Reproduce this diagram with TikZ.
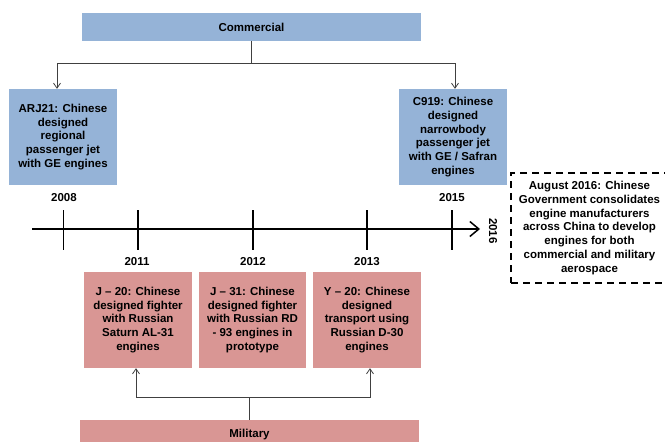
\documentclass[tikz,border=0pt]{standalone}
\usepackage{fontspec}
\setmainfont{Liberation Sans}
\usetikzlibrary{arrows.meta}
\definecolor{cblue}{HTML}{95B3D7}
\definecolor{cpink}{HTML}{D99694}
\definecolor{cline}{HTML}{404040}
\begin{document}
\begin{tikzpicture}[x=1pt,y=-1pt,
  txt/.style={font=\fontsize{11.5}{13.8}\selectfont\bfseries, align=center, inner sep=0pt, text=black},
  combox/.style={txt, fill=cblue, minimum width=108pt, minimum height=96pt},
  milbox/.style={txt, fill=cpink, minimum width=108pt, minimum height=96pt},
  conn/.style={draw=cline, line width=0.8pt},
  connarrow/.style={conn, -{Straight Barb[length=5pt,width=7pt,line width=0.8pt]}},
  tline/.style={draw=black, line width=1.8pt},
  yearlbl/.style={txt}
]
\useasboundingbox (0,0) rectangle (665,442);

% top and bottom category boxes
\node[txt, fill=cblue, minimum width=339pt, minimum height=28pt] (comm) at (251.5,27) {Commercial};
\node[txt, fill=cpink, minimum width=339pt, minimum height=30pt] (mil) at (249.5,435) {Military};

% commercial boxes
\node[combox] (arj) at (63,137) {ARJ21: Chinese\\designed\\regional\\passenger jet\\with GE engines};
\node[combox] (c919) at (453,137) {C919: Chinese\\designed\\narrowbody\\passenger jet\\with GE / Safran\\engines};

% military boxes
\node[milbox] (j20) at (138,320) {J -- 20: Chinese\\designed fighter\\with Russian\\Saturn AL-31\\engines};
\node[milbox, minimum width=107pt] (j31) at (252.5,320) {J -- 31: Chinese\\designed fighter\\with Russian RD\\- 93 engines in\\prototype};
\node[milbox] (y20) at (367,320) {Y -- 20: Chinese\\designed\\transport using\\Russian D-30\\engines};

% dashed note
\node[txt, draw=black, dashed, dash pattern=on 7pt off 5pt, line width=1.5pt,
      minimum width=157pt, minimum height=110pt] (note) at (589.5,228)
  {August 2016: Chinese\\Government consolidates\\engine manufacturers\\across China to develop\\engines for both\\commercial and military\\aerospace};

% commercial connectors
\coordinate (cl) at (57,63);
\coordinate (cr) at (455,63);
\draw[connarrow] (comm.south) |- (cl) -- (cl |- arj.north);
\draw[connarrow] (comm.south) |- (cr) -- (cr |- c919.north);

% military connectors
\coordinate (ml) at (136,397);
\coordinate (mr) at (370,397);
\draw[connarrow] (mil.north) |- (ml) -- (ml |- j20.south);
\draw[connarrow] (mil.north) |- (mr) -- (mr |- y20.south);

% timeline
\coordinate (tl0) at (32,229);
\coordinate (tl1) at (480,229);
\draw[tline, -{Straight Barb[length=9pt,width=15pt,line width=1.5pt]}] (tl0) -- (tl1);
\foreach \x/\n in {63.5/a,138/b,253/c,367/d,452/e}{
  \coordinate (tt\n) at (\x,210);
  \coordinate (tb\n) at (\x,250);
  \draw[tline] (tt\n) -- (tb\n);
}

% year labels
\node[yearlbl] (y2008) at (64,198) {2008};
\node[yearlbl] (y2015) at (452,198) {2015};
\node[yearlbl] (y2011) at (137,262) {2011};
\node[yearlbl] (y2012) at (253,262) {2012};
\node[yearlbl] (y2013) at (367,262) {2013};
\node[yearlbl, rotate=-90] (y2016) at (493,231) {2016};
\end{tikzpicture}
\end{document}
